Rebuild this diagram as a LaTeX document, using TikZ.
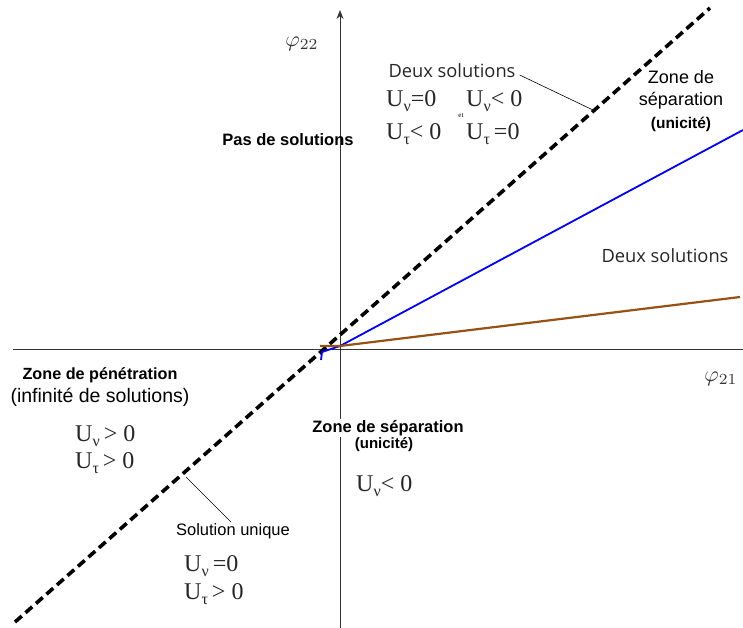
\documentclass[tikz,border=0pt]{standalone}
\usepackage{fontspec}
\usepackage{graphicx}
\setmainfont{Liberation Serif}
\setsansfont{Liberation Sans}
\newfontfamily\myriad{Open Sans}
\usetikzlibrary{arrows.meta}
\definecolor{brownline}{RGB}{150,82,20}
\newcommand{\Uv}{U\raisebox{-0.4ex}{\fontsize{16}{16}\selectfont ν}}
\newcommand{\Ut}{U\raisebox{-0.4ex}{\fontsize{16}{16}\selectfont τ}}
\tikzset{
  axis/.style={line width=1pt, draw=black!80},
  sepline/.style={line width=3.6pt, dash pattern=on 9pt off 5pt},
  leader/.style={line width=0.6pt},
  serif/.style={font=\fontsize{24}{26}\selectfont, text=black!85, inner sep=0pt, anchor=west},
  lab/.style={font=\myriad\fontsize{18.3}{20}\selectfont, text=black!85, inner sep=0pt},
  boldlab/.style={font=\sffamily\bfseries\fontsize{16.5}{18}\selectfont, inner sep=0pt},
  reglab/.style={font=\sffamily\fontsize{18}{20}\selectfont, inner sep=0pt},
  philab/.style={inner sep=0pt, text=black!80},
}
\begin{document}
\begin{tikzpicture}[x=1pt,y=-1pt]
\useasboundingbox (0,0) rectangle (743,628);
% axes
\coordinate (xl) at (13,349);
\coordinate (xr) at (743,349);
\coordinate (yb) at (340,628);
\coordinate (yt) at (340,10);
\coordinate (O) at (340,346);
\draw[axis] (xl) -- (xr);
\draw[axis, -{Stealth[length=9pt,width=7pt]}] (yb) -- (yt);
% lines
\coordinate (dl) at (15,622);
\coordinate (dr) at (710,8);
\draw[sepline] (dl) -- (dr);
\coordinate (b0) at (321,360);
\coordinate (b1) at (322,352);
\coordinate (br) at (743,130);
\draw[blue, line width=1.8pt] (b0) -- (b1) -- (O) -- (br);
\coordinate (n0) at (320,346);
\coordinate (nr) at (740,297);
\draw[brownline, line width=2.2pt] (n0) -- (O) -- (nr);
% axis labels
\node[philab] (phi22) at (302,44) {\scalebox{2.2}{$\varphi_{22}$}};
\node[philab] (phi21) at (721,379) {\scalebox{2.2}{$\varphi_{21}$}};
% top middle
\node[lab] (deux1) at (452,71) {Deux solutions};
\coordinate (ld1) at (593,110);
\draw[leader] (deux1.east) ++(4,4) coordinate (ld0) -- (ld1);
\node[serif] (u1) at (386,101) {\Uv=0};
\node[font=\fontsize{7}{7}\selectfont, inner sep=0pt] (et) at (461,116) {et};
\node[serif] (u2) at (466,101) {\Uv< 0};
\node[serif] (u3) at (386,134) {\Ut< 0};
\node[serif] (u4) at (466,134) {\Ut\,=0};
\node[boldlab] (pas) at (288,140) {Pas de solutions};
% top right
\node[reglab] (zs1) at (681,77) {Zone de};
\node[reglab] (zs2) at (681,101) {séparation};
\node[boldlab, font=\sffamily\bfseries\fontsize{15.5}{17}\selectfont] (zs3) at (681,124) {(unicité)};
\node[lab] (deux2) at (665,256) {Deux solutions};
% left
\node[boldlab, font=\sffamily\bfseries\fontsize{16.2}{17}\selectfont] (zp1) at (100,375) {Zone de pénétration};
\node[reglab, font=\sffamily\fontsize{19.5}{20}\selectfont] (zp2) at (100,397) {(infinité de solutions)};
\node[serif] (u5) at (75,436) {\Uv\,> 0};
\node[serif] (u6) at (75,463) {\Ut\,> 0};
% bottom middle
\node[boldlab, fill=white, inner sep=1pt] (zb1) at (388,428) {Zone de séparation};
\node[boldlab, font=\sffamily\bfseries\fontsize{15}{16}\selectfont, fill=white, inner sep=1pt] (zb2) at (384,445) {(unicité)};
\node[serif] (u7) at (356,486) {\Uv< 0};
% bottom left
\node[reglab, font=\sffamily\fontsize{16.5}{18}\selectfont] (sol) at (233,531) {Solution unique};
\coordinate (ls0) at (186,477);
\coordinate (ls1) at (231,522);
\draw[leader] (ls0) -- (ls1);
\node[serif] (u8) at (184,566) {\Uv\,=0};
\node[serif] (u9) at (184,594) {\Ut\,> 0};
\end{tikzpicture}
\end{document}
